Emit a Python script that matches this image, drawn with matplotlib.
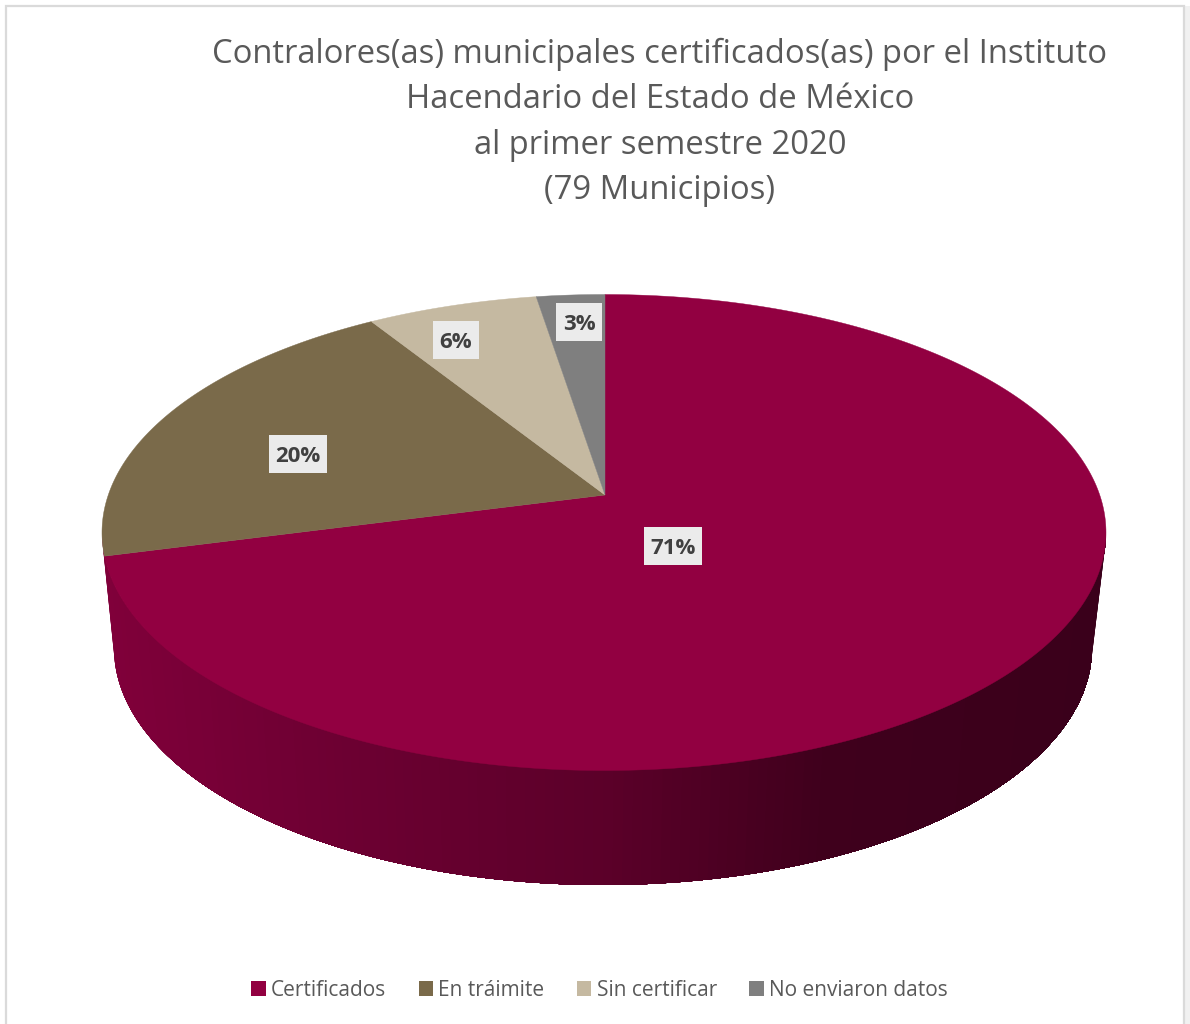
import numpy as np
import matplotlib
matplotlib.use("Agg")
import matplotlib.pyplot as plt
from matplotlib.patches import Polygon, Rectangle, Patch
from matplotlib.colors import LinearSegmentedColormap

# --- data ---
categories = ["Certificados", "En tráimite", "Sin certificar", "No enviaron datos"]
municipios = [56, 16, 5, 2]
percent_labels = ["71%", "20%", "6%", "3%"]
colors = ["#920041", "#7A6A4A", "#C5B9A1", "#7F7F7F"]
title_lines = [
    "Contralores(as) municipales certificados(as) por el Instituto",
    "Hacendario del Estado de México",
    "al primer semestre 2020",
    "(79 Municipios)",
]

# --- geometry of the perspective pie, in figure pixels ---
W, H = 1190, 1024
TOP_C = (604.0, 532.5)
TOP_A, TOP_B = 502.0, 238.0
DIR_B = 232.0
BOT_C = (603.0, 648.0)
BOT_A, BOT_B = 489.0, 237.0
APEX = (605.0, 495.0)

plt.rcParams["font.family"] = ["Open Sans", "DejaVu Sans"]
fig = plt.figure(figsize=(W / 100, H / 100), dpi=100, facecolor="white")
ax = fig.add_axes([0, 0, 1, 1])
ax.set_xlim(0, W)
ax.set_ylim(H, 0)
ax.axis("off")


def rim_point(theta):
    """Point on the top ellipse reached from the apex at clockwise angle theta."""
    dx, dy = TOP_A * np.sin(theta), -DIR_B * np.cos(theta)
    px, py = APEX[0] - TOP_C[0], APEX[1] - TOP_C[1]
    qa = (dx / TOP_A) ** 2 + (dy / TOP_B) ** 2
    qb = 2 * (px * dx / TOP_A ** 2 + py * dy / TOP_B ** 2)
    qc = (px / TOP_A) ** 2 + (py / TOP_B) ** 2 - 1
    t = (-qb + np.sqrt(qb * qb - 4 * qa * qc)) / (2 * qa)
    return APEX[0] + t * dx, APEX[1] + t * dy


# chart frame
ax.add_patch(Rectangle((1185, 6), 5, H, fc="#F1F1F1", ec="none", zorder=0))
ax.add_patch(Rectangle((6, 6), 1178, H + 20, fc="white", ec="#DADADA", lw=1.6, zorder=0.5))

# side wall, shaded left to right; each band overlaps all that follow it, so no seams
shade = LinearSegmentedColormap.from_list(
    "wall",
    [(0.0, "#80003A"), (0.2, "#6F0033"), (0.5, "#5B0029"), (0.72, "#3F001C"), (1.0, "#3A001B")],
)
phis = np.linspace(np.pi, 0, 161)
for i, p0 in enumerate(phis[:-1]):
    rest = phis[i:]
    top_arc = np.c_[TOP_C[0] + TOP_A * np.cos(rest), TOP_C[1] + TOP_B * np.sin(rest)]
    bot_arc = np.c_[BOT_C[0] + BOT_A * np.cos(rest), BOT_C[1] + BOT_B * np.sin(rest)]
    verts = np.vstack([top_arc, bot_arc[::-1]])
    c = shade((np.cos(p0) + 1) / 2)
    ax.add_patch(Polygon(verts, closed=True, fc=c, ec="none", zorder=1))

# top face wedges
edges = 2 * np.pi * np.cumsum([0] + municipios) / sum(municipios)
for start, end, col in zip(edges[:-1], edges[1:], colors):
    thetas = np.linspace(start, end, 400)
    arc = [rim_point(t) for t in thetas]
    ax.add_patch(Polygon([APEX] + arc, closed=True, fc=col, ec=col, lw=0.3, zorder=2))

# percentage labels with their grey boxes
label_pos = [(673, 546), (298, 454), (455.5, 340), (579, 322)]
for txt, (x, y) in zip(percent_labels, label_pos):
    w = 58 if len(txt) == 3 else 46
    ax.add_patch(Rectangle((x - w / 2, y - 19), w, 38, fc="#EBEBEB", ec="none", zorder=3))
    ax.text(x, y + 2, txt, ha="center", va="center", fontsize=16, fontweight="bold",
            color="#404040", zorder=4)

# title
for line, y in zip(title_lines, [54, 99.5, 145, 190.5]):
    ax.text(660, y, line, ha="center", va="center", fontsize=23.6, color="#595959", zorder=4)

# legend
handles = [Patch(fc=c, ec="none") for c in colors]
ax.legend(handles, categories, loc="center", bbox_to_anchor=(599.5 / W, 1 - 990 / H),
          bbox_transform=fig.transFigure, ncol=4, frameon=False, fontsize=15,
          labelcolor="#595959", handlelength=0.7, handleheight=0.7,
          handletextpad=0.25, columnspacing=1.55, borderpad=0, borderaxespad=0)

fig.savefig("out.png", dpi=100)
